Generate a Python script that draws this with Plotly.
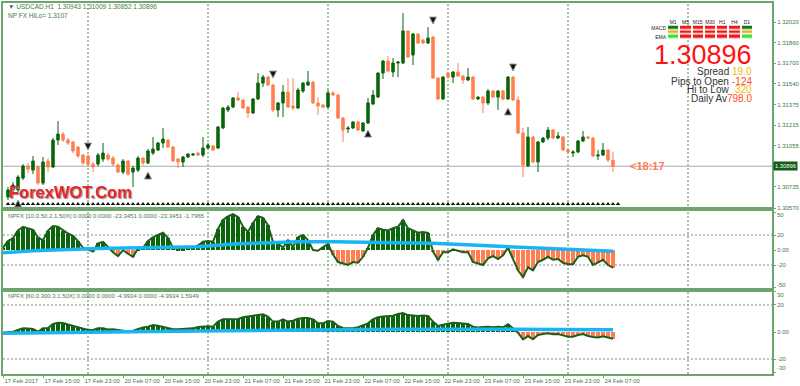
import plotly.graph_objects as go
from plotly.subplots import make_subplots

# ---------------- data ----------------
bar_index = list(range(1, 123))
open_ = [1.30656,1.30711,1.30711,1.30804,1.30898,1.30866,1.30890,1.30765,1.30937,1.30890,
         1.31100,1.31147,1.31100,1.31085,1.31046,1.30983,1.30976,1.30913,1.30913,1.30952,
         1.30983,1.30960,1.30905,1.30851,1.30937,1.30851,1.30866,1.30960,1.30921,1.30999,
         1.31022,1.31077,1.31100,1.31046,1.30952,1.30929,1.30968,1.30983,1.30999,1.30983,
         1.31038,1.31054,1.31038,1.31194,1.31334,1.31357,1.31428,1.31412,1.31357,1.31311,
         1.31420,1.31544,1.31591,1.31529,1.31334,1.31389,1.31474,1.31365,1.31350,1.31482,
         1.31529,1.31552,1.31389,1.31373,1.31357,1.31467,1.31451,1.31272,1.31186,1.31194,
         1.31241,1.31171,1.31233,1.31381,1.31435,1.31622,1.31716,1.31630,1.31700,1.31700,
         1.31950,1.31763,1.31926,1.31879,1.31856,1.31903,1.31583,1.31420,1.31622,1.31591,
         1.31630,1.31599,1.31568,1.31591,1.31420,1.31435,1.31389,1.31482,1.31435,1.31482,
         1.31420,1.31591,1.31412,1.31155,1.30898,1.31124,1.30929,1.31085,1.31116,1.31178,
         1.31116,1.31124,1.31022,1.30999,1.31007,1.31093,1.31124,1.31116,1.30976,1.30983,
         1.31022,1.30943]
high = [1.30734,1.30773,1.30827,1.30913,1.30921,1.30976,1.30905,1.30968,1.30960,1.31116,
        1.31248,1.31163,1.31116,1.31093,1.31054,1.30991,1.30983,1.30929,1.30999,1.31077,
        1.30999,1.30976,1.30921,1.30952,1.30944,1.30898,1.30976,1.30968,1.31030,1.31124,
        1.31085,1.31194,1.31108,1.31054,1.30960,1.30976,1.30999,1.30999,1.31007,1.31124,
        1.31077,1.31061,1.31210,1.31357,1.31373,1.31435,1.31474,1.31420,1.31365,1.31428,
        1.31622,1.31607,1.31599,1.31537,1.31396,1.31529,1.31583,1.31583,1.31505,1.31552,
        1.31638,1.31560,1.31435,1.31381,1.31490,1.31482,1.31459,1.31279,1.31210,1.31248,
        1.31248,1.31241,1.31428,1.31490,1.31630,1.31724,1.31755,1.31739,1.31716,1.32090,
        1.31957,1.31934,1.31934,1.31887,1.31981,1.31911,1.31591,1.31599,1.31630,1.31638,
        1.31700,1.31607,1.31661,1.31599,1.31443,1.31443,1.31498,1.31490,1.31490,1.31490,
        1.31599,1.31599,1.31443,1.31194,1.31202,1.31132,1.31093,1.31124,1.31202,1.31186,
        1.31163,1.31132,1.31030,1.31022,1.31100,1.31171,1.31132,1.31124,1.31022,1.31077,
        1.31030,1.31009]
low = [1.30633,1.30688,1.30695,1.30789,1.30843,1.30835,1.30750,1.30750,1.30851,1.30882,
       1.31061,1.31085,1.31061,1.30999,1.30960,1.30905,1.30898,1.30851,1.30898,1.30929,
       1.30937,1.30898,1.30843,1.30835,1.30820,1.30734,1.30851,1.30905,1.30913,1.30983,
       1.31015,1.31038,1.31038,1.30929,1.30882,1.30890,1.30960,1.30976,1.30976,1.30968,
       1.31030,1.31015,1.31030,1.31186,1.31318,1.31350,1.31404,1.31342,1.31272,1.31303,
       1.31412,1.31513,1.31521,1.31318,1.31279,1.31279,1.31350,1.31334,1.31342,1.31467,
       1.31521,1.31381,1.31295,1.31350,1.31350,1.31443,1.31264,1.31085,1.31155,1.31186,
       1.31171,1.31163,1.31225,1.31373,1.31428,1.31576,1.31630,1.31591,1.31591,1.31692,
       1.31739,1.31685,1.31848,1.31848,1.31848,1.31576,1.31412,1.31412,1.31576,1.31544,
       1.31591,1.31537,1.31560,1.31412,1.31412,1.31311,1.31373,1.31428,1.31334,1.31412,
       1.31412,1.31404,1.31147,1.30812,1.30890,1.30921,1.30851,1.31077,1.31100,1.31108,
       1.31108,1.31015,1.30999,1.30968,1.30999,1.31085,1.31108,1.30968,1.30944,1.30976,
       1.30929,1.30852]
close = [1.30711,1.30750,1.30812,1.30898,1.30874,1.30937,1.30765,1.30929,1.30890,1.31100,
         1.31147,1.31100,1.31077,1.31015,1.30976,1.30921,1.30913,1.30890,1.30983,1.30999,
         1.30952,1.30913,1.30851,1.30937,1.30835,1.30882,1.30960,1.30921,1.31015,1.31030,
         1.31077,1.31108,1.31046,1.30937,1.30929,1.30968,1.30991,1.30991,1.30983,1.31038,
         1.31061,1.31022,1.31202,1.31350,1.31357,1.31428,1.31412,1.31350,1.31311,1.31420,
         1.31544,1.31591,1.31529,1.31334,1.31389,1.31474,1.31357,1.31350,1.31490,1.31544,
         1.31552,1.31389,1.31365,1.31357,1.31467,1.31451,1.31272,1.31178,1.31194,1.31241,
         1.31178,1.31233,1.31389,1.31451,1.31622,1.31716,1.31638,1.31700,1.31708,1.31950,
         1.31747,1.31926,1.31856,1.31856,1.31895,1.31583,1.31420,1.31591,1.31591,1.31630,
         1.31599,1.31568,1.31591,1.31420,1.31435,1.31389,1.31482,1.31435,1.31482,1.31420,
         1.31591,1.31412,1.31155,1.30905,1.31124,1.30929,1.31085,1.31116,1.31178,1.31116,
         1.31132,1.31022,1.31007,1.31007,1.31093,1.31124,1.31116,1.30976,1.30983,1.31022,
         1.30944,1.30896]

sell_arrow_index = [17, 54, 86, 102]
sell_arrow_price = [1.31022, 1.31583, 1.32004, 1.31638]
buy_arrow_index = [3, 29, 73, 101]
buy_arrow_price = [1.30633, 1.30851, 1.31178, 1.31350]
marker_row_index = list(range(1, 124))
marker_row_price = 1.30602

ind_index = list(range(0, 123))
npfx_fast = [3,12,16,26,31,29,27,17,13,26,
             32,31,26,22,19,12,3,0,-2,9,
             11,4,-3,-8,0,-5,-9,2,3,12,
             17,20,23,16,3,1,2,4,3,6,
             11,12,11,28,40,45,48,44,31,24,
             36,45,43,33,11,9,3,13,4,17,
             20,13,0,-1,4,8,-6,-16,-18,-20,
             -16,-17,-9,3,20,29,27,26,29,31,
             40,29,26,23,24,23,-2,-13,-3,-3,
             1,-1,-3,-3,-16,-18,-20,-11,-8,-12,
             -7,3,-11,-27,-36,-23,-27,-16,-13,-9,
             -13,-12,-17,-19,-19,-9,-7,-9,-20,-17,
             -13,-20,-23.3451]
fast_signal_index = [0,6,19,33,39,46,53,59,66,73,79,86,93,99,106,113,122]
fast_signal = [-3.6,-1.0,2.2,3.0,4.4,8.0,9.8,11.0,11.0,9.8,9.8,8.9,6.7,4.4,2.2,0.9,-1.7965]

npfx_slow = [-0.5,0,0.2,1.5,2.8,2.5,2.2,0.2,2.7,3,
             5.9,6.9,6.6,5.5,4.4,3.2,2.2,1.5,1.5,2.8,
             2.7,1.8,2,1.5,1,0.4,1,2.4,3.3,3.9,
             5.2,4.6,3.8,3.3,2,2,2.4,2.7,2.7,3.7,
             4.2,4.2,3.9,7.7,9.4,9.4,9.4,9.6,10.9,11.3,
             12,12.6,13.1,11.4,7.7,7.7,9.4,7.7,8.4,9.8,
             10.4,10.3,9.4,6.4,6.4,8.1,7.7,4.4,3,2.7,
             2.7,3.5,5,6.4,9.4,10.9,11.4,11.6,12.1,13.3,
             14,12.5,12.2,11.9,12.2,11.9,7.7,4.4,5.4,6.2,
             6.9,6.6,6.4,6,3.9,3.3,3.7,3.9,3.5,3.9,
             3.5,5.7,2.7,-0.5,-5.4,-3,-5.4,-2.2,-1.5,-1,
             -1.7,-1.5,-2.5,-3.5,-3.5,-2.2,-1.5,-3,-3.7,-4,
             -3.2,-4,-4.9934]
slow_signal_index = [0, 19, 26, 39, 59, 79, 99, 122]
slow_signal = [-1.0, -0.5, 0.2, 0.7, 1.5, 2.0, 2.0, 1.5949]

time_tick_index = [0, 8, 16, 24, 32, 40, 48, 56, 64, 72, 80, 88, 96, 104, 112, 120]
time_tick_text = ["17 Feb 2017", "17 Feb 15:00", "17 Feb 23:00", "20 Feb 07:00", "20 Feb 15:00",
                  "20 Feb 23:00", "21 Feb 07:00", "21 Feb 15:00", "21 Feb 23:00", "22 Feb 07:00",
                  "22 Feb 15:00", "22 Feb 23:00", "23 Feb 07:00", "23 Feb 15:00", "23 Feb 23:00",
                  "24 Feb 07:00"]
day_break_index = [17, 41, 65, 89, 113, 137]

price_ticks = [1.32020, 1.31860, 1.31700, 1.31540, 1.31375, 1.31215, 1.31055, 1.30735, 1.30570]
fast_ticks = [50, 20, 0, -20, -50]
fast_tick_text = ["50", "20", "0.00", "-20", "-50"]
slow_ticks = [30, 20, 0, -20, -30]
slow_tick_text = ["30", "20", "0.00", "-20", "-30"]
levels = [20, -20]

timeframes = ["M1", "M5", "M15", "M30", "H1", "H4", "D1"]
signal_rows = ["EMA", "STR", "MACD"]
signal_state = [[2, 3, 3, 3, 3, 3, 2],
                [1, 3, 3, 3, 3, 3, 1],
                [0, 3, 3, 3, 3, 3, 0]]

header_text = "▼ USDCAD.H1  1.30943 1.31009 1.30852 1.30896"
hilo_text = "NP FX HiLo= 1.3107"
fast_label = "NPFX [10.0.50.2.1.50X] 0.0000 0.0000 -23.3451 0.0000 -23.3451 -1.7965"
slow_label = "NPFX [60.0.300.3.1.50X] 0.0000 0.0000 -4.9934 0.0000 -4.9934 1.5949"
info_labels = ["Spread", "Pips to Open", "Hi to Low", "Daily Av"]
info_values = ["19.0", "-124", "320", "798.0"]
info_colors = ["#f5b800", "#ff4a1c", "#f5b800", "#ff4a1c"]
countdown = "<18:17"

# ---------------- style ----------------
GREEN = "#0b650b"
CORAL = "#ff7f50"
FRAME = "#6ea56e"
TXT = "#3f7a3f"
CYAN = "#1ab4f2"
FONT = "Liberation Sans"


def px_x(x):
    return (x - 3) / 769


def px_y(y):
    return (374 - y) / 371


fig = make_subplots(rows=3, cols=1, shared_xaxes=True, vertical_spacing=0)

fig.add_trace(go.Candlestick(
    x=bar_index, open=open_, high=high, low=low, close=close,
    increasing=dict(line=dict(color=GREEN, width=1), fillcolor=GREEN),
    decreasing=dict(line=dict(color=CORAL, width=1), fillcolor=CORAL),
    whiskerwidth=0, hoverinfo="skip"), row=1, col=1)

fig.add_trace(go.Scatter(x=marker_row_index, y=[marker_row_price] * len(marker_row_index),
                         mode="markers", marker=dict(symbol="triangle-up", size=4, color="#111111"),
                         hoverinfo="skip"), row=1, col=1)
fig.add_trace(go.Scatter(x=sell_arrow_index, y=sell_arrow_price, mode="markers",
                         marker=dict(symbol="arrow-down", size=7, color="#111111",
                                     line=dict(color="#999999", width=1)), hoverinfo="skip"), row=1, col=1)
fig.add_trace(go.Scatter(x=buy_arrow_index, y=buy_arrow_price, mode="markers",
                         marker=dict(symbol="arrow-up", size=7, color="#111111",
                                     line=dict(color="#999999", width=1)), hoverinfo="skip"), row=1, col=1)

# fast NPFX
fig.add_trace(go.Bar(x=ind_index, y=npfx_fast, width=0.75,
                     marker=dict(color=[GREEN if v >= 0 else CORAL for v in npfx_fast], line=dict(width=0)),
                     hoverinfo="skip"), row=2, col=1)
fig.add_trace(go.Scatter(x=ind_index, y=npfx_fast, mode="lines",
                         line=dict(color="#1d5e1d", width=2), hoverinfo="skip"), row=2, col=1)
fig.add_trace(go.Scatter(x=fast_signal_index, y=fast_signal, mode="lines",
                         line=dict(color=CYAN, width=3.5), hoverinfo="skip"), row=2, col=1)

# slow NPFX
fig.add_trace(go.Bar(x=ind_index, y=npfx_slow, width=0.75,
                     marker=dict(color=[GREEN if v >= 0 else CORAL for v in npfx_slow], line=dict(width=0)),
                     hoverinfo="skip"), row=3, col=1)
fig.add_trace(go.Scatter(x=ind_index, y=npfx_slow, mode="lines",
                         line=dict(color="#1d5e1d", width=2), hoverinfo="skip"), row=3, col=1)
fig.add_trace(go.Scatter(x=slow_signal_index, y=slow_signal, mode="lines",
                         line=dict(color=CYAN, width=3.5), hoverinfo="skip"), row=3, col=1)

# signal matrix
cs = [[0, "#0f7a12"], [0.25, "#0f7a12"], [0.25, "#f7a21b"], [0.5, "#f7a21b"],
      [0.5, "#3ee23e"], [0.75, "#3ee23e"], [0.75, "#f01818"], [1, "#f01818"]]
fig.add_trace(go.Heatmap(z=signal_state, x=timeframes, y=signal_rows, colorscale=cs,
                         zmin=-0.5, zmax=3.5, showscale=False, xgap=2, ygap=1.5,
                         hoverinfo="skip", xaxis="x4", yaxis="y4"))

x_range = [0, 153.8]
axis_common = dict(showgrid=False, zeroline=False, showline=True, mirror=True,
                   linecolor=FRAME, linewidth=2, automargin=False)
tickfont = dict(family=FONT, size=6, color=TXT)

# extreme indicator labels are drawn inside the panel edge (as the terminal does)
fast_text_shown = ["" if abs(v) == 50 else t for v, t in zip(fast_ticks, fast_tick_text)]
slow_text_shown = ["" if abs(v) == 30 else t for v, t in zip(slow_ticks, slow_tick_text)]

fig.update_layout(
    width=800, height=386, margin=dict(l=3, r=28, t=3, b=12),
    plot_bgcolor="white", paper_bgcolor="white", showlegend=False, bargap=0,
    xaxis=dict(range=x_range, showticklabels=False, ticks="", rangeslider=dict(visible=False), **axis_common),
    xaxis2=dict(range=x_range, showticklabels=False, ticks="", **axis_common),
    xaxis3=dict(range=x_range, tickmode="array", tickvals=time_tick_index, ticktext=time_tick_text,
                ticks="outside", ticklen=2, tickcolor=FRAME, tickfont=tickfont, tickangle=0,
                ticklabelposition="outside right", **axis_common),
    yaxis=dict(domain=[px_y(209), 1], range=[1.30563, 1.32168], side="right",
               tickmode="array", tickvals=price_ticks, ticktext=[f"{v:.5f}" for v in price_ticks],
               ticks="outside", ticklen=2, tickcolor=FRAME, tickfont=tickfont, **axis_common),
    yaxis2=dict(domain=[px_y(290), px_y(209)], range=[-53.3, 54.7], side="right",
                tickmode="array", tickvals=fast_ticks, ticktext=fast_text_shown,
                ticks="outside", ticklen=2, tickcolor=FRAME, tickfont=tickfont, **axis_common),
    yaxis3=dict(domain=[0, px_y(290)], range=[-31.1, 31.1], side="right",
                tickmode="array", tickvals=slow_ticks, ticktext=slow_text_shown,
                ticks="outside", ticklen=2, tickcolor=FRAME, tickfont=tickfont, **axis_common),
    xaxis4=dict(domain=[px_x(667), px_x(753)], anchor="y4", side="top", showgrid=False,
                zeroline=False, showline=False, ticks="", automargin=False,
                tickfont=dict(family=FONT, size=5, color="#222222")),
    yaxis4=dict(domain=[px_y(39.5), px_y(25.5)], anchor="x4", showgrid=False,
                zeroline=False, showline=False, ticks="", automargin=False,
                tickfont=dict(family=FONT, size=5, color="#222222")),
)

shapes = []
for d in day_break_index:
    shapes.append(dict(type="line", xref="x", yref="paper", x0=d, x1=d, y0=0, y1=1,
                       line=dict(color="#3f8f3f", width=1, dash="2px,2px"), layer="below"))
for lv in levels:
    for yr in ("y2", "y3"):
        shapes.append(dict(type="line", xref="paper", yref=yr, x0=0, x1=1, y0=lv, y1=lv,
                           line=dict(color="#8a8a8a", width=1, dash="2px,2px"), layer="below"))
shapes.append(dict(type="line", xref="paper", yref="y", x0=0, x1=1, y0=close[-1], y1=close[-1],
                   line=dict(color="#a9a9a9", width=1), layer="below"))
fig.update_layout(shapes=shapes)

ann = []
ann.append(dict(text=header_text, x=px_x(6), y=px_y(7), xref="paper", yref="paper",
                xanchor="left", yanchor="middle", showarrow=False,
                font=dict(family=FONT, size=6.5, color=TXT)))
ann.append(dict(text=hilo_text, x=px_x(6), y=px_y(15), xref="paper", yref="paper",
                xanchor="left", yanchor="middle", showarrow=False,
                font=dict(family=FONT, size=6.5, color=TXT)))
ann.append(dict(text=fast_label, x=px_x(6), y=px_y(216), xref="paper", yref="paper",
                xanchor="left", yanchor="middle", showarrow=False,
                font=dict(family=FONT, size=6, color=TXT)))
ann.append(dict(text=slow_label, x=px_x(6), y=px_y(296), xref="paper", yref="paper",
                xanchor="left", yanchor="middle", showarrow=False,
                font=dict(family=FONT, size=6, color=TXT)))
# extreme indicator scale labels
for txt, yy in ((fast_tick_text[0], 215), (fast_tick_text[-1], 285),
                (slow_tick_text[0], 295), (slow_tick_text[-1], 368)):
    ann.append(dict(text=txt, x=1, y=px_y(yy), xref="paper", yref="paper", xanchor="left",
                    yanchor="middle", xshift=3, showarrow=False, font=tickfont))
ann.append(dict(text=f"{close[-1]:.5f}", x=px_x(754), y=px_y(55.5), xref="paper", yref="paper",
                xanchor="right", yanchor="middle", showarrow=False,
                font=dict(family=FONT, size=27, color="#ff1212")))
label_y = [71.5, 81, 90, 99]
for lab, val, col, yy in zip(info_labels, info_values, info_colors, label_y):
    ann.append(dict(text=lab, x=px_x(731 if lab != "Daily Av" else 729), y=px_y(yy),
                    xref="paper", yref="paper", xanchor="right", yanchor="middle", showarrow=False,
                    font=dict(family=FONT, size=10, color="#333333")))
    ann.append(dict(text=val, x=px_x(754), y=px_y(yy), xref="paper", yref="paper",
                    xanchor="right", yanchor="middle", showarrow=False,
                    font=dict(family=FONT, size=10, color=col)))
ann.append(dict(text=countdown, x=bar_index[-1] + 3, y=close[-1], xref="x", yref="y",
                xanchor="left", yanchor="middle", showarrow=False,
                font=dict(family=FONT, size=11, color=CORAL, weight="bold")))
ann.append(dict(text=f"{close[-1]:.5f}", x=1, y=close[-1], xref="paper", yref="y",
                xanchor="left", yanchor="middle", xshift=1, showarrow=False,
                bgcolor="#145c14", borderpad=1,
                font=dict(family=FONT, size=5.8, color="white")))
ann.append(dict(text="ForexWOT.Com", x=px_x(7), y=px_y(192), xref="paper", yref="paper",
                xanchor="left", yanchor="middle", showarrow=False,
                font=dict(family=FONT, size=16.5, color="#e5262c",
                          weight="bold", shadow="1px 1px 1px #8a8a8a")))
fig.update_layout(annotations=ann)

fig.write_html("out.html", config={"displayModeBar": False},
               post_script="document.body.style.margin='0px';document.body.style.overflow='hidden';")
